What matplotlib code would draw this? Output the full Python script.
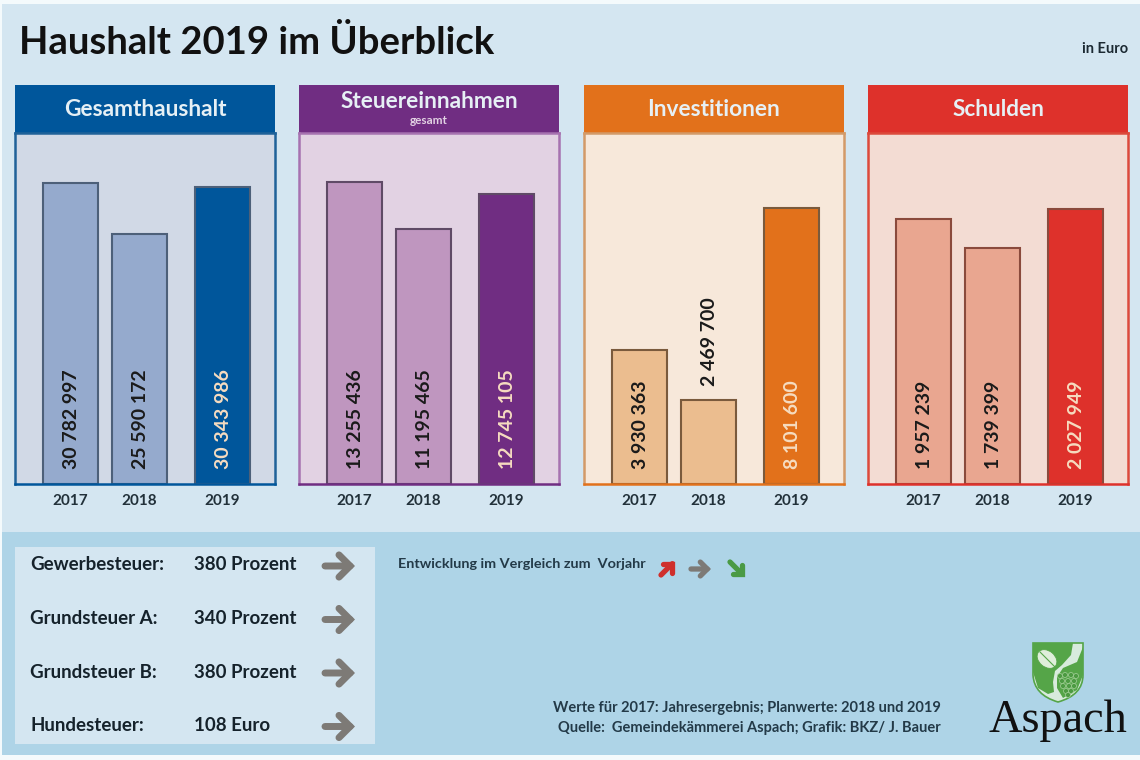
#coding=utf-8
import matplotlib
matplotlib.use('Agg')
import matplotlib.pyplot as plt
from matplotlib.patches import Rectangle, Polygon, Ellipse, Circle, PathPatch
from matplotlib.path import Path

plt.rcParams['font.family'] = ['Lato', 'DejaVu Sans']

W, H = 1140, 760

# data
years = ['2017', '2018', '2019']
gesamthaushalt = [30782997, 25590172, 30343986]
steuereinnahmen = [13255436, 11195465, 12745105]
investitionen = [3930363, 2469700, 8101600]
schulden = [1957239, 1739399, 2027949]
gesamthaushalt_labels = ['30 782 997', '25 590 172', '30 343 986']
steuereinnahmen_labels = ['13 255 436', '11 195 465', '12 745 105']
investitionen_labels = ['3 930 363', '2 469 700', '8 101 600']
schulden_labels = ['1 957 239', '1 739 399', '2 027 949']
panel_titles = ['Gesamthaushalt', 'Steuereinnahmen', 'Investitionen', 'Schulden']
tax_names = ['Gewerbesteuer:', 'Grundsteuer A:', 'Grundsteuer B:', 'Hundesteuer:']
tax_rates = ['380 Prozent', '340 Prozent', '380 Prozent', '108 Euro']

panels = [
    (gesamthaushalt, gesamthaushalt_labels, 15, '#00569b', '#d1d9e6', '#1f6299', '#95aacd', '#4d6079', 301),
    (steuereinnahmen, steuereinnahmen_labels, 299, '#702d82', '#e2d2e3', '#a672b0', '#bf96bf', '#5f4a66', 302),
    (investitionen, investitionen_labels, 583.5, '#e2711b', '#f7e8da', '#d39a68', '#ebbd8f', '#7a5a3c', 276),
    (schulden, schulden_labels, 868, '#de312b', '#f3dcd3', '#dc4a3c', '#e9a690', '#8a4a3c', 275),
]

fig = plt.figure(figsize=(W / 100, H / 100), dpi=100, facecolor='#f4fafc')

# background layer in pixel coordinates
bg = fig.add_axes([0, 0, 1, 1], zorder=0)
bg.set_xlim(0, W)
bg.set_ylim(H, 0)
bg.axis('off')
bg.add_patch(Rectangle((2, 4), W - 2, 528, fc='#d4e6f1', ec='none'))
bg.add_patch(Rectangle((2, 532), W - 2, 223, fc='#aed4e7', ec='none'))
bg.add_patch(Rectangle((15, 547), 360, 197, fc='#d4e6f1', ec='none'))

bg.text(19, 42, 'Haushalt 2019 im Überblick', fontsize=27.5, fontweight='bold', color='#111111',
        va='center', ha='left')
bg.text(1128, 49, 'in Euro', fontsize=10.5, fontweight='bold', color='#1c2a33', va='center', ha='right')

for (values, labels, left, strong, body, edge, light, bar_edge, top_px), title in zip(panels, panel_titles):
    bg.add_patch(Rectangle((left, 85), 260, 48, fc=strong, ec='none'))
    title_y = 102 if title == 'Steuereinnahmen' else 109
    bg.text(left + 130, title_y, title, fontsize=16.3, fontweight='bold', color='#e6f0f5',
            ha='center', va='center')
    if title == 'Steuereinnahmen':
        bg.text(left + 130, 120, 'gesamt', fontsize=8.5, fontweight='bold', color='#e2d2e3',
                ha='center', va='center')

    # body axes, x in pixels from the panel edge, y in euro
    ax = fig.add_axes([left / W, 1 - 484 / H, 260 / W, 351 / H], zorder=1)
    ax.set_facecolor(body)
    ax.set_xlim(0, 260)
    ax.set_ylim(0, max(values) * 351 / top_px)
    for s in ax.spines.values():
        s.set_color(edge)
        s.set_linewidth(1.8)
    ax.spines['bottom'].set_color(strong)
    xpos = [55.5, 124.5, 207.5]
    ax.bar(xpos[:2], values[:2], width=55, color=light, edgecolor=bar_edge, linewidth=1.5)
    ax.bar(xpos[2], values[2], width=55, color=strong, edgecolor=bar_edge, linewidth=1.5)
    ax.set_xticks(xpos, years)
    ax.set_yticks([])
    ax.tick_params(axis='x', length=0, pad=7, labelsize=11, labelcolor='#22313a')
    for t in ax.get_xticklabels():
        t.set_fontweight('bold')
    for i, (v, lab) in enumerate(zip(values, labels)):
        col = '#f6dcc0' if i == 2 else '#1a1a1a'
        if title == 'Investitionen' and i == 1:
            ax.annotate(lab, (xpos[i], v), xytext=(1, 10), textcoords='offset points', rotation=90,
                        ha='center', va='bottom', fontsize=14, fontweight='bold', color=col)
        else:
            ax.annotate(lab, (xpos[i], 0), xytext=(1, 11), textcoords='offset points', rotation=90,
                        ha='center', va='bottom', fontsize=14, fontweight='bold', color=col)


def arrow(x0, y0, x1, y1, color, lw=5.0, head=0.8):
    bg.annotate('', xy=(x1, y1), xytext=(x0, y0),
                arrowprops=dict(arrowstyle='->,head_length=%g,head_width=%g' % (head, head),
                                color=color, lw=lw, shrinkA=0, shrinkB=0,
                                capstyle='round', joinstyle='miter'))


# tax box
for i, (name, rate) in enumerate(zip(tax_names, tax_rates)):
    y = 565 + i * 53.5
    bg.text(30, y, name, fontsize=13.5, fontweight='bold', color='#15222b', va='center')
    bg.text(194, y, rate, fontsize=13.5, fontweight='bold', color='#15222b', va='center')
    arrow(325, y + 1, 355, y + 1, '#7d7a76')

# legend for arrows
bg.text(398, 564, 'Entwicklung im Vergleich zum  Vorjahr', fontsize=10.4, fontweight='bold',
        color='#233a48', va='center')
arrow(661, 575, 675, 561, '#cf2f2c', lw=3.8, head=0.5)
arrow(691, 569, 711, 569, '#7d7a76', lw=3.8, head=0.5)
arrow(730, 562, 745, 577, '#4a9a45', lw=3.8, head=0.5)

# source
bg.text(941, 708, 'Werte für 2017: Jahresergebnis; Planwerte: 2018 und 2019', fontsize=10.5,
        fontweight='bold', color='#233a48', ha='right', va='center')
bg.text(941, 728, 'Quelle:  Gemeindekämmerei Aspach; Grafik: BKZ/ J. Bauer', fontsize=10.5,
        fontweight='bold', color='#233a48', ha='right', va='center')

# logo
shield = Path([(1033, 643), (1083, 643), (1083, 675), (1083, 695), (1058, 702),
               (1034, 695), (1033, 675), (1033, 643), (1033, 643)],
              [Path.MOVETO, Path.LINETO, Path.LINETO, Path.CURVE3, Path.CURVE3,
               Path.CURVE3, Path.CURVE3, Path.LINETO, Path.CLOSEPOLY])
shield_fill = PathPatch(shield, fc='#d8ebdd', ec='#55a548', lw=1.2, zorder=2)
bg.add_patch(shield_fill)
upper = Polygon([(1033, 643), (1073, 643), (1071, 655), (1062, 665), (1055, 671), (1053, 682),
                 (1054, 692), (1048, 694), (1038, 688), (1033, 672)], fc='#55a548', ec='none', zorder=3)
lower = Polygon([(1083, 647), (1083, 675), (1077, 690), (1063, 698), (1057, 688), (1057, 677),
                 (1063, 668), (1077, 662)], fc='#55a548', ec='none', zorder=3)
bg.add_patch(upper)
bg.add_patch(lower)
upper.set_clip_path(shield_fill)
lower.set_clip_path(shield_fill)
bg.add_patch(Ellipse((1047, 659), 22, 16, angle=40, fc='#dfeeda', ec='#55a548', lw=0.6, zorder=4))
bg.plot([1040, 1055], [652, 667], color='#55a548', lw=0.8, zorder=5)
grapes = [(1060, 676), (1065, 675), (1071, 675), (1076, 676), (1062, 681), (1068, 681), (1074, 681),
          (1063, 686), (1069, 686), (1074, 686), (1066, 691), (1071, 691), (1068, 695)]
for gx, gy in grapes:
    bg.add_patch(Circle((gx, gy), 2.5, fc='#4c9a42', ec='#a5d09a', lw=0.5, zorder=5))
bg.set_xlim(0, W)
bg.set_ylim(H, 0)
bg.text(1058, 721, 'Aspach', family='Liberation Serif', fontsize=33.3, color='#111111',
        ha='center', va='center', zorder=6)

fig.savefig('out.png', dpi=100, facecolor=fig.get_facecolor())
plt.close(fig)
